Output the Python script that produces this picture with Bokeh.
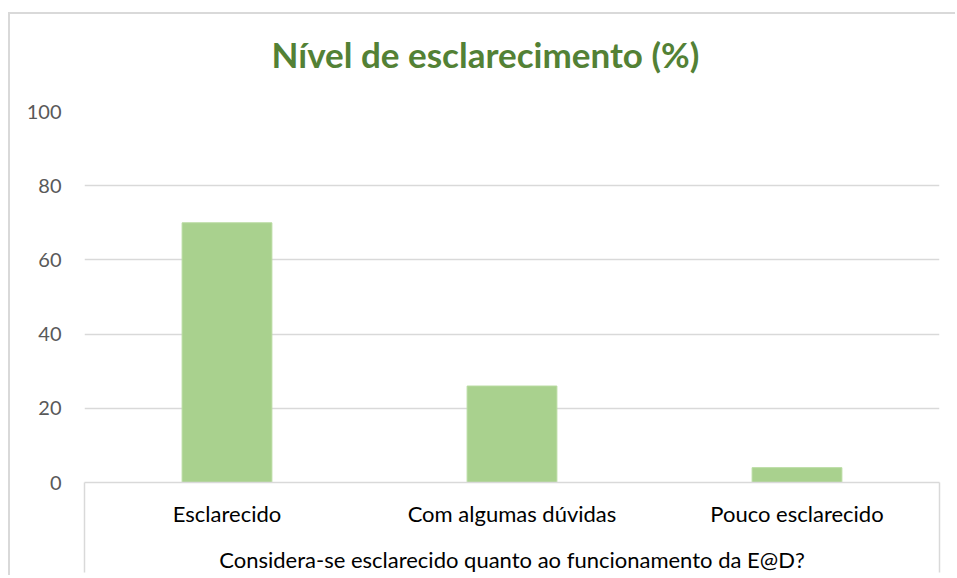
from bokeh.plotting import figure
from bokeh.models import Range1d, FixedTicker, Title
from bokeh.embed import file_html
from bokeh.resources import INLINE

categories = ["Esclarecido", "Com algumas dúvidas", "Pouco esclarecido"]
values = [70, 26, 4]
y_ticks = [0, 20, 40, 60, 80, 100]

title_text = "Nível de esclarecimento (%)"
x_label = "Considera-se esclarecido quanto ao funcionamento da E@D?"

positions = [i + 0.5 for i in range(len(categories))]

p = figure(width=947, height=563, output_backend="svg", toolbar_location=None,
           x_range=Range1d(0, len(categories)), y_range=Range1d(0, 100),
           min_border_left=74, min_border_right=18, min_border_top=97,
           min_border_bottom=95)
p.styles = {"margin-top": "12px", "margin-left": "8px",
            "border-top": "2px solid #d9d9d9",
            "border-left": "2px solid #d9d9d9"}
p.outline_line_color = None
p.background_fill_color = "white"
p.border_fill_color = "white"

spacer = Title(text=" ", text_font_size="2px", standoff=33)
p.add_layout(spacer, "above")
t = Title(text=title_text, align="left", offset=187, standoff=0,
          text_font="Lato", text_font_size="35px", text_font_style="bold",
          text_color="#538135")
p.add_layout(t, "above")

p.vbar(x=positions, top=values, width=0.315, fill_color="#a9d18e",
       line_color="#b8dba0", line_width=1)

# x axis
xa = p.xaxis[0]
xa.ticker = FixedTicker(ticks=positions, minor_ticks=[0, len(categories)])
xa.major_label_overrides = {pos: c for pos, c in zip(positions, categories)}
xa.major_tick_out = 0
xa.major_tick_in = 0
xa.minor_tick_in = 0
xa.minor_tick_out = 90
xa.minor_tick_line_color = "#d9d9d9"
xa.minor_tick_line_width = 1.5
xa.axis_line_color = "#d9d9d9"
xa.axis_line_width = 1.5
xa.major_label_text_font = "Lato"
xa.major_label_text_font_size = "22px"
xa.major_label_text_color = "#000000"
xa.major_label_standoff = -73
xa.axis_label = x_label
xa.axis_label_text_font = "Lato"
xa.axis_label_text_font_size = "22px"
xa.axis_label_text_font_style = "normal"
xa.axis_label_text_color = "#000000"
xa.axis_label_standoff = 16

# y axis
ya = p.yaxis[0]
ya.ticker = FixedTicker(ticks=y_ticks)
ya.axis_line_color = None
ya.major_tick_line_color = None
ya.minor_tick_line_color = None
ya.major_label_text_font = "Lato"
ya.major_label_text_font_size = "20px"
ya.major_label_text_color = "#595959"
ya.major_label_standoff = 17

p.xgrid.grid_line_color = None
p.ygrid.ticker = FixedTicker(ticks=y_ticks)
p.ygrid.grid_line_color = "#d9d9d9"
p.ygrid.grid_line_width = 1.3

open("out.html", "w").write(file_html(p, INLINE))
